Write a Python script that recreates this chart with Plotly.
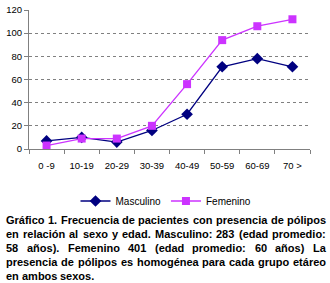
import plotly.graph_objects as go

categorias = ["0 -9", "10-19", "20-29", "30-39", "40-49", "50-59", "60-69", "70 >"]
masculino = [7, 10, 6, 16, 30, 71, 78, 71]
femenino = [3, 9, 9, 20, 56, 94, 106, 112]
y_ticks = [0, 20, 40, 60, 80, 100, 120]

caption_lines = [
    "Gráfico 1. Frecuencia de pacientes con presencia de pólipos",
    "en relación al sexo y edad. Masculino: 283 (edad promedio:",
    "58 años). Femenino 401 (edad promedio: 60 años) La",
    "presencia de pólipos es homogénea para cada grupo etáreo",
    "en ambos sexos.",
]

W, H = 330, 283
ML, MR, MT, MB = 29, 20, 10, 134
PW, PH = W - ML - MR, H - MT - MB

def px_x(p):
    return (p - ML) / PW

def px_y(p):
    return (H - MB - p) / PH

# Arial Bold advance widths (per 1000 em) for justified caption layout
AW = {' ': 278, '(': 333, ')': 333, ',': 278, '-': 333, '.': 278, ':': 333,
      'G': 778, 'F': 611, 'M': 833, 'L': 611,
      'a': 556, 'b': 611, 'c': 556, 'd': 611, 'e': 556, 'f': 333, 'g': 611, 'h': 611,
      'i': 278, 'j': 278, 'k': 556, 'l': 278, 'm': 889, 'n': 611, 'o': 611, 'p': 611,
      'q': 611, 'r': 389, 's': 556, 't': 333, 'u': 611, 'v': 556, 'w': 778, 'x': 556,
      'y': 556, 'z': 500, 'á': 556, 'é': 556, 'ó': 611, 'ñ': 611}

def tw(s, size):
    return sum(AW.get(c, 556) for c in s) * size / 1000.0

FS = 11
CAP_FONT = dict(family="Liberation Sans, Arial", size=FS, color="black")

fig = go.Figure()
fig.add_trace(go.Scatter(x=categorias, y=masculino, name="Masculino", mode="lines+markers",
                         line=dict(color="#000080", width=1.3),
                         marker=dict(symbol="diamond", size=9, color="#000080")))
fig.add_trace(go.Scatter(x=categorias, y=femenino, name="Femenino", mode="lines+markers",
                         line=dict(color="#CC33FF", width=1.3),
                         marker=dict(symbol="square", size=8, color="#CC33FF")))

annotations = []
x0, x1 = 5, 325
line_y = [220, 234, 248, 262, 276]
for i, line in enumerate(caption_lines):
    words = line.split(" ")
    justify = i < len(caption_lines) - 1
    total = sum(tw(w, FS) for w in words)
    gap = (x1 - x0 - total) / (len(words) - 1) if justify else tw(" ", FS)
    x = x0
    for w in words:
        annotations.append(dict(text="<b>%s</b>" % w, x=px_x(x), y=px_y(line_y[i]),
                                xref="paper", yref="paper", xanchor="left", yanchor="middle",
                                showarrow=False, borderpad=0, font=CAP_FONT))
        x += tw(w, FS) + gap

fig.update_layout(
    width=W, height=H,
    margin=dict(l=ML, r=MR, t=MT, b=MB, autoexpand=False),
    paper_bgcolor="white", plot_bgcolor="white",
    font=dict(family="Liberation Sans, Arial", size=10, color="black"),
    showlegend=True,
    legend=dict(orientation="h", xref="container", yref="container",
                x=166 / W, y=1 - 201 / H, xanchor="center", yanchor="middle",
                font=dict(size=10), itemwidth=30, tracegroupgap=0),
    annotations=annotations,
    xaxis=dict(type="category", showgrid=False, showline=True, linecolor="#808080", linewidth=1,
               ticks="outside", tickson="boundaries", ticklen=4, tickcolor="#808080",
               tickfont=dict(size=9.5), ticklabelstandoff=8, range=[-0.5, 7.5],
               fixedrange=True, automargin=False),
    yaxis=dict(range=[0, 120], tickvals=y_ticks, showgrid=True, gridcolor="#808080",
               griddash="dot", gridwidth=1, showline=True, linecolor="#808080", linewidth=1,
               ticks="outside", ticklen=4, tickcolor="#808080", tickfont=dict(size=9.5),
               zeroline=False, fixedrange=True, automargin=False),
)

fig.write_html("out.html", config={"displayModeBar": False},
               post_script="document.body.style.margin='0';document.body.style.overflow='hidden';")
